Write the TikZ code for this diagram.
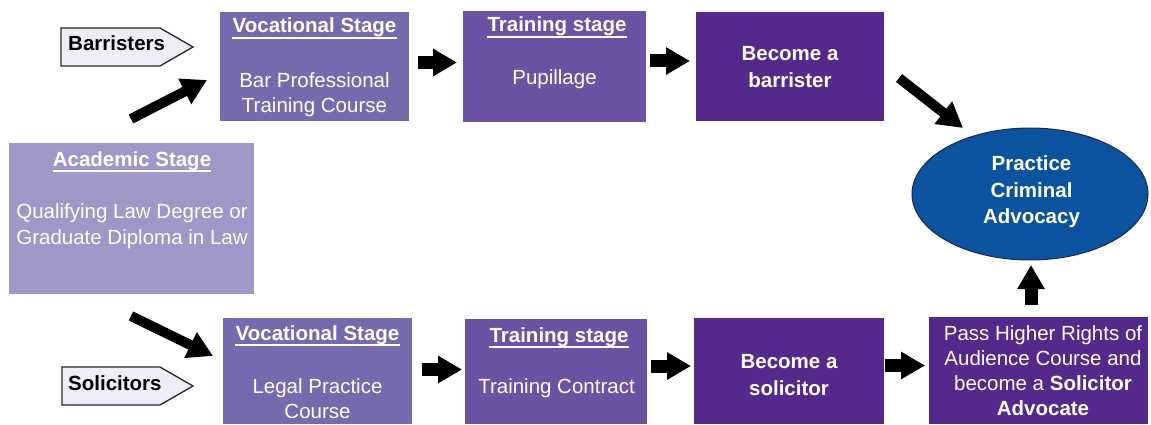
\documentclass[tikz,border=0pt]{standalone}
\usepackage{fontspec}
\setmainfont{Liberation Sans}
\usetikzlibrary{arrows.meta,shapes.geometric}
\definecolor{labfill}{HTML}{EFEEF6}
\definecolor{acadc}{HTML}{9E98C8}
\definecolor{vocc}{HTML}{766AAF}
\definecolor{trc}{HTML}{6B52A2}
\definecolor{becc}{HTML}{55298B}
\definecolor{ellc}{HTML}{0B539F}
\definecolor{elld}{HTML}{1A2A4E}
\begin{document}
\begin{tikzpicture}[x=1pt,y=-1pt,
  box/.style={rectangle, draw=none, inner sep=0pt},
  tx/.style={font=\fontsize{20.5}{24}\selectfont, text=white, inner sep=0pt, anchor=base},
  tb/.style={tx, font=\fontsize{20.5}{24}\selectfont\bfseries},
  ulline/.style={draw=white, line width=2pt},
  labbox/.style={draw=black!85, line width=1.3pt, fill=labfill, line join=miter},
  labtext/.style={font=\fontsize{20.5}{24}\selectfont\bfseries, text=black, inner sep=0pt, anchor=base west},
  harrow/.style={line width=13pt, -{Triangle[length=24pt,width=26pt]}},
  darrow/.style={line width=10pt, -{Triangle[length=25pt,width=27pt]}}
]
\useasboundingbox (0,0) rectangle (1151,425);

% boxes
\node[box, fill=vocc, minimum width=189pt, minimum height=109pt] (voct) at (314.5,66.5) {};
\node[box, fill=trc,  minimum width=183pt, minimum height=111pt] (trt)  at (554.5,66.5) {};
\node[box, fill=becc, minimum width=188pt, minimum height=109pt] (bb)   at (790,66.5) {};
\node[box, fill=acadc, minimum width=245pt, minimum height=151pt] (acad) at (131.5,218.5) {};
\node[box, fill=vocc, minimum width=189pt, minimum height=106pt] (vocb) at (317.5,371) {};
\node[box, fill=trc,  minimum width=182pt, minimum height=105pt] (trb)  at (556,371.5) {};
\node[box, fill=becc, minimum width=190pt, minimum height=106pt] (bs)   at (789,371) {};
\node[box, fill=becc, minimum width=219pt, minimum height=107pt] (sa)   at (1038.5,370.5) {};
\node[ellipse, draw=elld, line width=1pt, fill=ellc, minimum width=236pt, minimum height=132pt, inner sep=0pt] (ell) at (1030,194) {};

% texts
\node[tb] (vocth) at (314.5,33) {Vocational Stage};
\node[tx] (voct1) at (314.5,88) {Bar Professional};
\node[tx] (voct2) at (314.5,113) {Training Course};

\node[tb] (trth) at (557,32) {Training stage\ };
\node[tx] (trt1) at (554.5,85) {Pupillage};

\node[tb] (bb1) at (790,61) {Become a};
\node[tb] (bb2) at (790,88) {barrister};

\node[tb] (acadh) at (132,166) {Academic Stage};
\node[tx] (acad1) at (132,218) {Qualifying Law Degree or};
\node[tx] (acad2) at (132,244) {Graduate Diploma in Law};

\node[tb] (vocbh) at (317.5,340) {Vocational Stage};
\node[tx] (vocb1) at (317.5,393) {Legal Practice};
\node[tx] (vocb2) at (317.5,418) {Course};

\node[tb] (trbh) at (559,342) {Training stage\ };
\node[tx] (trb1) at (556.5,393) {Training Contract};

\node[tb] (bs1) at (789,368) {Become a};
\node[tb] (bs2) at (789,395) {solicitor};

\node[tx] (sa1) at (1043,340) {Pass Higher Rights of};
\node[tx] (sa2) at (1043,365) {Audience Course and};
\node[tx] (sa3) at (1043,390) {become a \textbf{Solicitor}};
\node[tb] (sa4) at (1043,415) {Advocate};

\node[tb] (ell1) at (1031.5,170) {Practice};
\node[tb] (ell2) at (1031.5,197) {Criminal};
\node[tb] (ell3) at (1031.5,223) {Advocacy};

% underlines
\foreach \n in {vocth,trth,acadh,vocbh,trbh}
  \draw[ulline] ([yshift=-4.8pt]\n.base west) -- ([yshift=-4.8pt]\n.base east);

% labels
\draw[labbox] (61,28) -- (160,28) -- (193,47) -- (160,66) -- (61,66) -- cycle;
\node[labtext] (barl) at (68,51) {Barristers};
\draw[labbox] (62,367) -- (160,367) -- (193,386) -- (160,405) -- (62,405) -- cycle;
\node[labtext] (soll) at (68,390) {Solicitors};

% arrow coordinates
\coordinate (a1s) at (418,62.5);  \coordinate (a1e) at (457,62.5);
\coordinate (a2s) at (650,61);    \coordinate (a2e) at (690,61);
\coordinate (a3s) at (422,369.5); \coordinate (a3e) at (462,369.5);
\coordinate (a4s) at (651,366);   \coordinate (a4e) at (691,366);
\coordinate (a5s) at (885,365.5); \coordinate (a5e) at (925,365.5);
\coordinate (a6s) at (1031,305);  \coordinate (a6e) at (1031,265);
\coordinate (d1s) at (131,119);   \coordinate (d1e) at (207,80);
\coordinate (d2s) at (131,316);   \coordinate (d2e) at (213,356);
\coordinate (d3s) at (899,78);    \coordinate (d3e) at (963,128);

\draw[harrow] (a1s) -- (a1e);
\draw[harrow] (a2s) -- (a2e);
\draw[harrow] (a3s) -- (a3e);
\draw[harrow] (a4s) -- (a4e);
\draw[harrow] (a5s) -- (a5e);
\draw[harrow] (a6s) -- (a6e);
\draw[darrow] (d1s) -- (d1e);
\draw[darrow] (d2s) -- (d2e);
\draw[darrow] (d3s) -- (d3e);
\end{tikzpicture}
\end{document}
